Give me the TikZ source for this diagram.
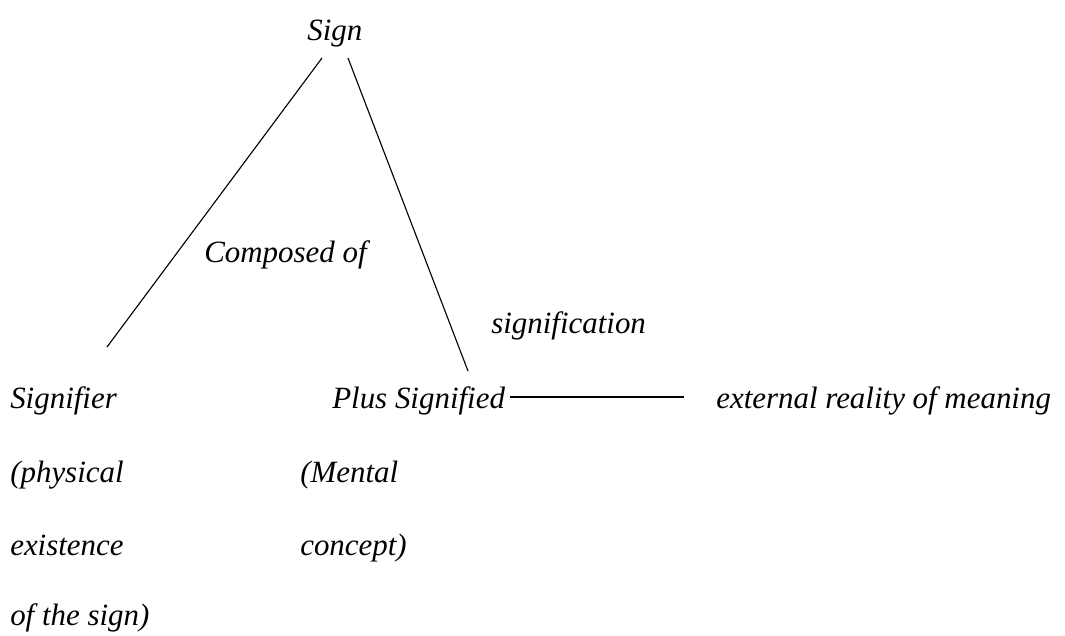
\documentclass[tikz,border=0pt]{standalone}
\usepackage{fontspec}
\setmainfont{Liberation Serif}
\usepackage{tikz}
\usetikzlibrary{calc}

\tikzset{lbl/.style={font=\itshape\fontsize{22}{26}\selectfont, inner sep=0pt, anchor=base west}}

\begin{document}
\begin{tikzpicture}
        \useasboundingbox (0,0) rectangle (26.625,-15.875);

        % Top of the tree
        \node[lbl] (sign) at (7.675,-1.0) {Sign};
        \node[lbl] (comp) at (5.1,-6.55) {Composed of};
        \node[lbl] (signif) at (12.275,-8.325) {signification};

        % Left column
        \node[lbl] (signifier) at (0.25,-10.2) {Signifier};
        \node[lbl] (phys) at (0.25,-12.05) {(physical};
        \node[lbl] (exist) at (0.25,-13.875) {existence};
        \node[lbl] (ofsign) at (0.25,-15.625) {of the sign)};

        % Middle column
        \node[lbl] (plus) at (8.3,-10.2) {Plus Signified};
        \node[lbl] (mental) at (7.5,-12.05) {(Mental};
        \node[lbl] (concept) at (7.5,-13.875) {concept)};

        % Right
        \node[lbl] (ext) at (17.9,-10.2) {external reality of meaning};

        % Line ends
        \coordinate (sl) at (8.05,-1.45);
        \coordinate (sr) at (8.7,-1.45);
        \coordinate (el) at (2.675,-8.675);
        \coordinate (er) at (11.7,-9.275);

        % Connections
        \draw[line width=0.8pt] (sl) -- (el);
        \draw[line width=0.8pt] (sr) -- (er);
        \draw[line width=1.5pt] ($(plus.mid east)+(0.12,0.2)$) -- ($(ext.mid west)+(-0.8,0.2)$);

    \end{tikzpicture}
\end{document}
